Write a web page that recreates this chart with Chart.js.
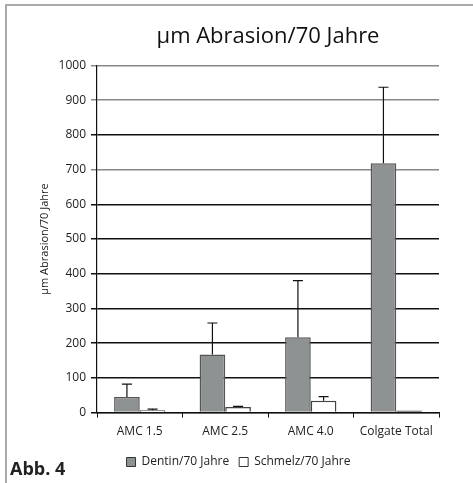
<!DOCTYPE html>
<html>
<head>
<meta charset="utf-8">
<script src="https://cdn.jsdelivr.net/npm/chart.js@4.4.1/dist/chart.umd.min.js"></script>
<style>
  html,body{margin:0;padding:0;background:#fff;}
  #wrap{position:relative;width:473px;height:483px;overflow:hidden;}
  #frame{position:absolute;left:5px;top:4px;right:-2px;bottom:-2px;border-top:2px solid #aaa;border-left:2px solid #aaa;}
  #chart{position:absolute;left:0;top:0;}
  #abb{position:absolute;left:10px;top:456px;font:bold 18px "Open Sans",sans-serif;color:#222;}
</style>
</head>
<body>
<div id="wrap">
  <div id="frame"></div>
  <canvas id="chart" width="473" height="483"></canvas>
  <div id="abb">Abb. 4</div>
</div>
<script>
// Chart data
const categories = ['AMC 1.5','AMC 2.5','AMC 4.0','Colgate Total'];
const dentin = [45, 167, 217, 718];
const dentinErr = [37, 91, 163, 219];
const schmelz = [7, 16, 34, 6];
const schmelzErr = [3, 2, 12, 0];
const yTicks = [0,100,200,300,400,500,600,700,800,900,1000];

const FONT = '"Open Sans", sans-serif';

// error bars (upward only) drawn through the y scale
const errorBars = {
    id:'errorBars',
    afterDatasetsDraw(chart){
        const ctx = chart.ctx, y = chart.scales.y;
        const errs = [dentinErr, schmelzErr];
        chart.data.datasets.forEach((ds,i)=>{
            const meta = chart.getDatasetMeta(i);
            meta.data.forEach((bar,j)=>{
                const e = errs[i][j];
                if(!e) return;
                const top = y.getPixelForValue(ds.data[j] + e);
                ctx.save();
                ctx.strokeStyle = '#111';
                ctx.lineWidth = 1.2;
                ctx.beginPath();
                ctx.moveTo(bar.x, bar.y);
                ctx.lineTo(bar.x, top);
                ctx.moveTo(bar.x-5, top);
                ctx.lineTo(bar.x+5, top);
                ctx.stroke();
                ctx.restore();
            });
        });
    }
};

const chart = new Chart(document.getElementById('chart').getContext('2d'), {
    type:'bar',
    data:{
        labels:categories,
        datasets:[
            {label:'Dentin/70 Jahre',data:dentin,backgroundColor:'#8f9292',borderColor:'#555',borderWidth:1.5,legendFill:'#8f9292'},
            {label:'Schmelz/70 Jahre',data:schmelz,backgroundColor:['#fff','#fff','#fff','#111'],borderColor:'#444',borderWidth:1.5,legendFill:'#fff'}
        ]
    },
    options:{
        responsive:false,animation:false,
        layout:{padding:{left:38,right:34,top:24,bottom:5}},
        datasets:{bar:{categoryPercentage:0.6,barPercentage:1.0}},
        plugins:{
            title:{display:true,fullSize:false,text:'µm Abrasion/70 Jahre',color:'#111',font:{family:FONT,size:22,weight:'normal'},padding:{top:0,bottom:15}},
            legend:{position:'bottom',labels:{color:'#222',font:{family:FONT,size:12},boxWidth:9,boxHeight:9,padding:10,
                generateLabels(c){
                    return c.data.datasets.map((ds,i)=>({text:ds.label,fillStyle:ds.legendFill,strokeStyle:'#333',lineWidth:1,datasetIndex:i,fontColor:'#222'}));
                }}},
            tooltip:{enabled:false}
        },
        scales:{
            x:{
                grid:{display:true,drawOnChartArea:false,drawTicks:true,tickLength:5,offset:true,color:'#111'},
                border:{color:'#111',width:1.2},
                ticks:{color:'#222',font:{family:FONT,size:12},padding:7,maxRotation:0}
            },
            y:{
                min:0,max:1000,
                afterBuildTicks(s){s.ticks = yTicks.map(v=>({value:v}));},
                afterFit(s){s.width = 59;},
                grid:{color:(c)=>[700,900,1000].includes(c.tick&&c.tick.value)?'#888':'#111',lineWidth:1.5,tickLength:6},
                border:{color:'#111',width:1.2},
                ticks:{color:'#222',font:{family:FONT,size:12},padding:5,callback:(v)=>String(v)},
                title:{display:true,text:'µm Abrasion/70 Jahre',color:'#222',font:{family:FONT,size:11},padding:{top:0,bottom:2}}
            }
        }
    },
    plugins:[errorBars]
});
</script>
</body>
</html>
